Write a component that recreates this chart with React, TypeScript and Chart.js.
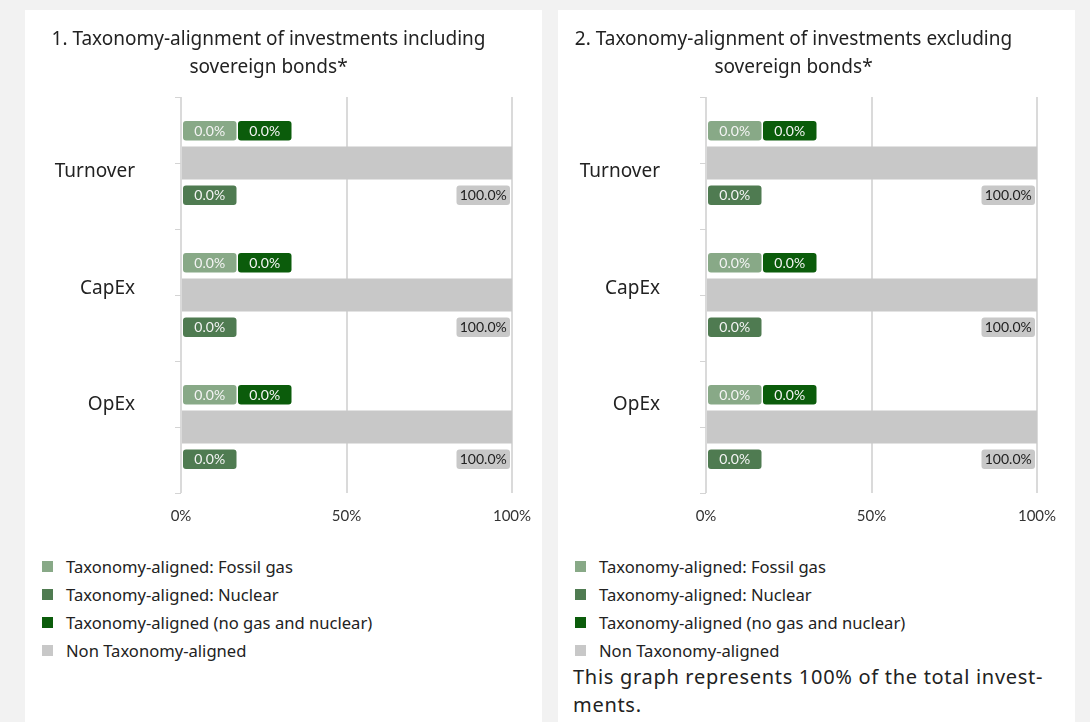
import React, { useEffect, useRef } from 'react';
import { Chart, registerables } from 'chart.js';

Chart.register(...registerables);

// ---------- data ----------
const categories = ['Turnover', 'CapEx', 'OpEx'];
const seriesNames = [
  'Taxonomy-aligned: Fossil gas',
  'Taxonomy-aligned: Nuclear',
  'Taxonomy-aligned (no gas and nuclear)',
  'Non Taxonomy-aligned',
];
const seriesColors = ['#88a987', '#4f7b51', '#0b5c0b', '#c8c8c8'];
const labelTextColors = ['#f4f4f4', '#f4f4f4', '#f4f4f4', '#222222'];

const incFossilGas = [0.0, 0.0, 0.0];
const incNuclear = [0.0, 0.0, 0.0];
const incAligned = [0.0, 0.0, 0.0];
const incNonAligned = [100.0, 100.0, 100.0];

const excFossilGas = [0.0, 0.0, 0.0];
const excNuclear = [0.0, 0.0, 0.0];
const excAligned = [0.0, 0.0, 0.0];
const excNonAligned = [100.0, 100.0, 100.0];

const xTickValues = [0, 50, 100];

const titleInc = ['1. Taxonomy-alignment of investments including', 'sovereign bonds*'];
const titleExc = ['2. Taxonomy-alignment of investments excluding', 'sovereign bonds*'];
const footnoteLines = ['This graph represents 100% of the total invest-', 'ments.'];

const FONT = '"Noto Sans", "DejaVu Sans", sans-serif';
const NUM_FONT = 'Lato, "Noto Sans", sans-serif';

// ---------- plugins ----------
const boxLabelsPlugin = {
  id: 'boxLabels',
  afterDatasetsDraw(chart: any, _args: any, opts: any) {
    const ctx = chart.ctx;
    const refMeta = chart.getDatasetMeta(opts.refDataset);
    chart.data.datasets.forEach((ds: any, di: number) => {
      const meta = chart.getDatasetMeta(di);
      const place = opts.placements[di];
      meta.data.forEach((el: any, idx: number) => {
        const refEl = refMeta.data[idx];
        const barTop = refEl.y - refEl.height / 2;
        const barBottom = refEl.y + refEl.height / 2;
        const w = opts.boxWidth;
        const h = opts.boxHeight;
        let left: number;
        if (place.align === 'start') {
          left = Math.min(el.base, el.x) + opts.inset + place.slot * opts.slotStep;
        } else {
          left = Math.max(el.base, el.x) - opts.inset - w;
        }
        const top = place.row === 'above' ? barTop - opts.gap - h : barBottom + opts.gap;
        ctx.save();
        ctx.fillStyle = ds.backgroundColor;
        ctx.beginPath();
        ctx.roundRect(left, top, w, h, opts.radius);
        ctx.fill();
        ctx.fillStyle = labelTextColors[di];
        ctx.font = `${opts.fontSize}px ${NUM_FONT}`;
        ctx.textAlign = 'center';
        ctx.textBaseline = 'middle';
        const v = ds.data[idx];
        ctx.fillText(v.toFixed(1) + '%', left + w / 2, top + h / 2 + 0.5);
        ctx.restore();
      });
    });
  },
};

// extra tick marks at category centres + category labels
const yAxisDecorPlugin = {
  id: 'yAxisDecor',
  afterDraw(chart: any, _args: any, opts: any) {
    const y = chart.scales.y;
    const ctx = chart.ctx;
    const left = chart.chartArea.left;
    ctx.save();
    ctx.strokeStyle = opts.tickColor;
    ctx.lineWidth = 1;
    y.ticks.forEach((_t: any, i: number) => {
      const py = Math.round(y.getPixelForValue(i)) + 0.5;
      ctx.beginPath();
      ctx.moveTo(left - opts.tickLength, py);
      ctx.lineTo(left, py);
      ctx.stroke();
    });
    ctx.fillStyle = opts.labelColor;
    ctx.font = `${opts.fontSize}px ${FONT}`;
    ctx.textAlign = 'right';
    ctx.textBaseline = 'middle';
    chart.data.labels.forEach((lab: string, i: number) => {
      const py = y.getPixelForValue(i) + opts.labelShift[i];
      ctx.fillText(lab, left - opts.labelGap, py);
    });
    ctx.restore();
  },
};

function BarPanel({ title, series }: { title: string[]; series: number[][] }) {
  const ref = useRef<HTMLCanvasElement | null>(null);
  useEffect(() => {
    if (!ref.current) return;
    const chart = new Chart(ref.current, {
      type: 'bar',
      data: {
        labels: categories,
        datasets: series.map((d, i) => ({
          label: seriesNames[i],
          data: d,
          backgroundColor: seriesColors[i],
          borderWidth: 0,
          categoryPercentage: 1,
          barPercentage: 0.25,
        })),
      },
      plugins: [boxLabelsPlugin, yAxisDecorPlugin],
      options: {
        indexAxis: 'y',
        animation: false,
        responsive: true,
        maintainAspectRatio: false,
        layout: { padding: { left: 0, right: 30, top: 0, bottom: 0 } },
        plugins: {
          legend: { display: false },
          tooltip: { enabled: false },
          title: {
            display: true,
            text: title,
            color: '#222222',
            font: { family: FONT, size: 19, weight: 'normal', lineHeight: '28px' },
            padding: { top: 16, bottom: 15 },
          },
          boxLabels: {
            refDataset: 3,
            placements: [
              { row: 'above', slot: 0, align: 'start' },
              { row: 'below', slot: 0, align: 'start' },
              { row: 'above', slot: 1, align: 'start' },
              { row: 'below', slot: 0, align: 'end' },
            ],
            boxWidth: 53.5,
            boxHeight: 19.5,
            gap: 6,
            inset: 2,
            slotStep: 55,
            radius: 3,
            fontSize: 14,
          },
          yAxisDecor: {
            tickColor: '#d4d4d4',
            tickLength: 6,
            labelColor: '#222222',
            fontSize: 19,
            labelGap: 46,
            labelShift: [9, -6, -22],
          },
        } as any,
        scales: {
          x: {
            stacked: true,
            min: 0,
            max: 100,
            afterBuildTicks: (s: any) => {
              s.ticks = xTickValues.map((v) => ({ value: v }));
            },
            afterFit: (s: any) => {
              s.height = 36;
              s.paddingLeft = 0;
              s.paddingRight = 0;
            },
            grid: { color: '#dadada', lineWidth: 2, drawTicks: false, tickLength: 0 },
            border: { display: false },
            ticks: {
              padding: 14,
              color: '#333333',
              font: { family: NUM_FONT, size: 15 },
              callback: (v: any) => v + '%',
            },
          },
          y: {
            stacked: true,
            afterFit: (s: any) => {
              s.width = 156;
              s.paddingTop = 0;
              s.paddingBottom = 0;
            },
            grid: {
              display: true,
              drawOnChartArea: false,
              drawTicks: true,
              tickLength: 6,
              offset: true,
              color: '#d4d4d4',
              lineWidth: 1,
            },
            border: { display: false },
            ticks: { display: false },
          },
        },
      } as any,
    });
    return () => chart.destroy();
  }, []);
  return <canvas ref={ref} />;
}

function Legend() {
  return (
    <div style={{ position: 'absolute', left: 17, top: 542, fontFamily: FONT, fontSize: 16.6, color: '#222' }}>
      {seriesNames.map((n, i) => (
        <div key={n} style={{ display: 'flex', alignItems: 'center', height: 28 }}>
          <span style={{ width: 11, height: 11, background: seriesColors[i], display: 'inline-block', marginRight: 13, flex: 'none' }} />
          <span>{n}</span>
        </div>
      ))}
    </div>
  );
}

export default function App() {
  return (
    <div style={{ position: 'relative', width: 1090, height: 722, background: '#f2f2f2', overflow: 'hidden' }}>
      <style>{`body{margin:0}`}</style>
      <div style={{ position: 'absolute', left: 25, top: 10, width: 517, height: 720, background: '#fff' }}>
        <div style={{ position: 'absolute', left: 0, top: 0, width: 517, height: 519 }}>
          <BarPanel title={titleInc} series={[incFossilGas, incNuclear, incAligned, incNonAligned]} />
        </div>
        <Legend />
      </div>
      <div style={{ position: 'absolute', left: 558, top: 10, width: 517, height: 720, background: '#fff' }}>
        <div style={{ position: 'absolute', left: -8, top: 0, width: 517, height: 519 }}>
          <BarPanel title={titleExc} series={[excFossilGas, excNuclear, excAligned, excNonAligned]} />
        </div>
        <Legend />
        <div style={{ position: 'absolute', left: 15, top: 653, width: 472, fontFamily: FONT, fontSize: 20, letterSpacing: 0.7, lineHeight: '28px', color: '#222', whiteSpace: 'nowrap' }}>
          <div>{footnoteLines[0]}</div>
          <div>{footnoteLines[1]}</div>
        </div>
      </div>
    </div>
  );
}
